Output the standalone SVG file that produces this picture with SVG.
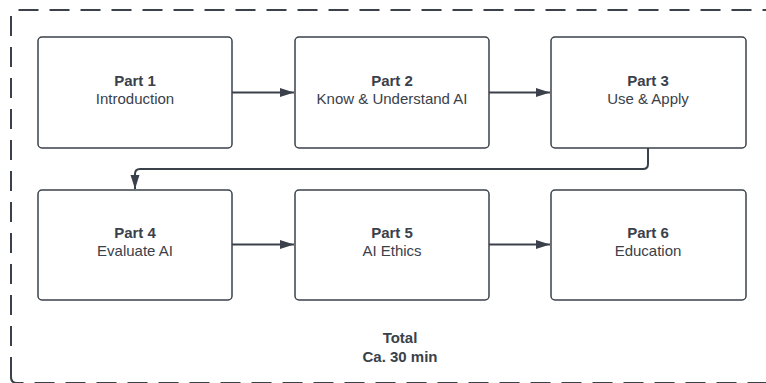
<svg xmlns="http://www.w3.org/2000/svg" width="766" height="383" viewBox="0 0 766 383">
<defs>
<style>
.box{fill:#fff;stroke:#3a414a;stroke-width:1.5}
.t{font-family:"Liberation Sans",Arial,sans-serif;font-size:15px;fill:#3a414a;text-anchor:middle}
.b{font-weight:bold}
.c{fill:none;stroke:#3a414a;stroke-width:2}
.d{fill:none;stroke:#3a414a;stroke-width:2;stroke-dasharray:20,11}
</style>
<marker id="ah" markerWidth="15" markerHeight="10" refX="14" refY="4.5" orient="auto" markerUnits="userSpaceOnUse" viewBox="0 0 15 10">
<path d="M0,0 L14,4.5 L0,9 Z" fill="#3a414a"/>
</marker>
</defs>
<rect width="766" height="383" fill="#fff"/>
<path class="d" d="M11,377 L11,16 Q11,10 17,10 L800,10"/>
<path class="d" d="M11,377 Q11,383 17,383 L800,383" stroke-dashoffset="4"/>
<g id="connectors">
<line class="c" x1="232" y1="92.5" x2="294" y2="92.5" marker-end="url(#ah)"/>
<line class="c" x1="489" y1="92.5" x2="550" y2="92.5" marker-end="url(#ah)"/>
<path class="c" d="M648,148 L648,164 Q648,169 643,169 L140,169 Q135,169 135,174 L135,189" marker-end="url(#ah)"/>
<line class="c" x1="232" y1="244.5" x2="294" y2="244.5" marker-end="url(#ah)"/>
<line class="c" x1="489" y1="244.5" x2="550" y2="244.5" marker-end="url(#ah)"/>
</g>
<g id="part1"><rect class="box" x="38" y="37" width="194" height="111" rx="4"/><text class="t b" x="135" y="86">Part 1</text><text class="t" x="135" y="104">Introduction</text></g>
<g id="part2"><rect class="box" x="295" y="37" width="194" height="111" rx="4"/><text class="t b" x="392" y="86">Part 2</text><text class="t" x="392" y="104">Know &amp; Understand AI</text></g>
<g id="part3"><rect class="box" x="551" y="37" width="195" height="111" rx="4"/><text class="t b" x="648" y="86">Part 3</text><text class="t" x="648" y="104">Use &amp; Apply</text></g>
<g id="part4"><rect class="box" x="38" y="190" width="194" height="110" rx="4"/><text class="t b" x="135" y="238">Part 4</text><text class="t" x="135" y="256">Evaluate AI</text></g>
<g id="part5"><rect class="box" x="295" y="190" width="194" height="110" rx="4"/><text class="t b" x="392" y="238">Part 5</text><text class="t" x="392" y="256">AI Ethics</text></g>
<g id="part6"><rect class="box" x="551" y="190" width="195" height="110" rx="4"/><text class="t b" x="648" y="238">Part 6</text><text class="t" x="648" y="256">Education</text></g>
<g id="total"><text class="t b" x="400" y="343">Total</text><text class="t b" x="400" y="362">Ca. 30 min</text></g>
</svg>
